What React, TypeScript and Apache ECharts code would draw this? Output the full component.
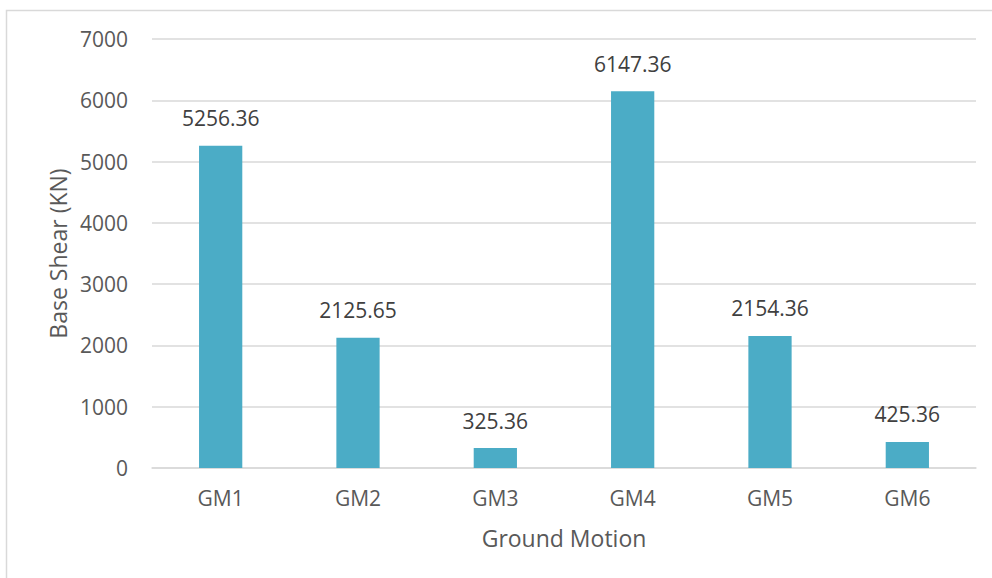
import React, { useEffect, useRef } from "react";
import * as echarts from "echarts";

const categories = ["GM1", "GM2", "GM3", "GM4", "GM5", "GM6"];
const baseShear = [5256.36, 2125.65, 325.36, 6147.36, 2154.36, 425.36];
const yTicks = { min: 0, max: 7000, interval: 1000 };

const FONT = "'Open Sans', sans-serif";

export default function App() {
  const ref = useRef<HTMLDivElement>(null);
  useEffect(() => {
    if (!ref.current) return;
    const chart = echarts.init(ref.current, null, { renderer: "svg" });
    chart.setOption({
      animation: false,
      backgroundColor: "#ffffff",
      textStyle: { fontFamily: FONT },
      graphic: [
        {
          type: "rect",
          shape: { x: 6.5, y: 10.5, width: 1100, height: 700 },
          style: { fill: "none", stroke: "#d9d9d9", lineWidth: 1.5 },
          silent: true,
        },
      ],
      grid: { left: 152, right: 16, top: 39, bottom: 110, containLabel: false },
      xAxis: {
        type: "category",
        data: categories,
        name: "Ground Motion",
        nameLocation: "middle",
        nameGap: 58,
        nameTextStyle: { fontSize: 23, color: "#595959", fontFamily: FONT },
        axisLine: { lineStyle: { color: "#d9d9d9", width: 1.5 } },
        axisTick: { show: false },
        axisLabel: { fontSize: 21, color: "#595959", margin: 19, fontFamily: FONT },
      },
      yAxis: {
        type: "value",
        min: yTicks.min,
        max: yTicks.max,
        interval: yTicks.interval,
        name: "Base Shear (KN)",
        nameLocation: "middle",
        nameGap: 82,
        nameRotate: 90,
        nameTextStyle: { fontSize: 23, color: "#595959", fontFamily: FONT },
        axisLine: { show: false },
        axisTick: { show: false },
        splitLine: { lineStyle: { color: "#d9d9d9", width: 1.5 } },
        axisLabel: {
          fontSize: 21,
          color: "#595959",
          margin: 24,
          fontFamily: FONT,
          formatter: (v: number) => String(v),
        },
      },
      series: [
        {
          type: "bar",
          data: baseShear,
          barWidth: "31.5%",
          itemStyle: { color: "#4bacc6" },
          label: {
            show: true,
            position: "top",
            distance: 17,
            fontSize: 21,
            color: "#404040",
            fontFamily: FONT,
            formatter: (p: any) => Number(p.value).toFixed(2),
          },
        },
      ],
    });
    return () => chart.dispose();
  }, []);
  return (
    <div
      ref={ref}
      style={{ position: "absolute", left: 0, top: 0, width: 992, height: 578 }}
    />
  );
}
